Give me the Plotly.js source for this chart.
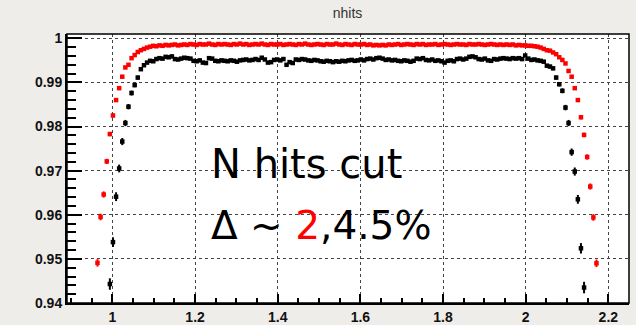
<!DOCTYPE html>
<html>
<head>
<meta charset="utf-8">
<script src="https://cdn.plot.ly/plotly-3.0.1.min.js"></script>
<style>
html,body{margin:0;padding:0;background:#efede9;}
#chart{width:636px;height:325px;}
</style>
</head>
<body>
<div id="chart"></div>
<script>
// Histogram bins: first bin centre and bin width (x axis)
const binCenter0 = 0.96375;
const binWidth = 0.0075;

// Red series (efficiency, tighter selection)
const redEff = [
  0.9491,0.9595,0.9646,0.9721,0.9783,0.9825,0.9860,0.9887,0.9913,0.9934,
  0.9940,0.9955,0.9962,0.9969,0.9973,0.9976,0.9979,0.9981,0.9983,0.9982,
  0.9984,0.9983,0.9985,0.9984,0.9985,0.9986,0.9984,0.9985,0.9986,0.9985,
  0.9987,0.9986,0.9985,0.9987,0.9986,0.9986,0.9988,0.9986,0.9985,0.9987,
  0.9986,0.9987,0.9986,0.9985,0.9987,0.9986,0.9988,0.9986,0.9987,0.9985,
  0.9986,0.9987,0.9986,0.9988,0.9986,0.9985,0.9987,0.9986,0.9986,0.9987,
  0.9985,0.9986,0.9987,0.9986,0.9985,0.9987,0.9986,0.9988,0.9986,0.9985,
  0.9986,0.9987,0.9986,0.9985,0.9987,0.9986,0.9986,0.9988,0.9986,0.9985,
  0.9987,0.9986,0.9985,0.9987,0.9986,0.9986,0.9987,0.9985,0.9986,0.9984,
  0.9985,0.9984,0.9985,0.9984,0.9986,0.9985,0.9986,0.9987,0.9985,0.9986,
  0.9987,0.9986,0.9985,0.9987,0.9986,0.9987,0.9985,0.9986,0.9986,0.9987,
  0.9985,0.9986,0.9987,0.9986,0.9985,0.9986,0.9987,0.9986,0.9986,0.9985,
  0.9987,0.9986,0.9986,0.9987,0.9986,0.9985,0.9986,0.9987,0.9986,0.9985,
  0.9986,0.9985,0.9986,0.9985,0.9986,0.9984,0.9985,0.9984,0.9984,0.9983,
  0.9983,0.9982,0.9981,0.9979,0.9976,0.9973,0.9972,0.9968,0.9964,0.9957,
  0.9951,0.9943,0.9926,0.9913,0.9887,0.9860,0.9821,0.9781,0.9731,0.9664,
  0.9594,0.9490
];
const redErr = [
  0.00085,0.00075,0.0007,0.0006,0.0005,0.00045,0.0004,0.00035,0.0003,0.00026,
  0.00024,0.0002,0.0002,0.00018,0.00018,0.00018,0.00018,0.00018,0.00018,0.00018,
  0.00018,0.00018,0.00018,0.00018,0.00018,0.00018,0.00018,0.00018,0.00018,0.00018,
  0.00018,0.00018,0.00018,0.00018,0.00018,0.00018,0.00018,0.00018,0.00018,0.00018,
  0.00018,0.00018,0.00018,0.00018,0.00018,0.00018,0.00018,0.00018,0.00018,0.00018,
  0.00018,0.00018,0.00018,0.00018,0.00018,0.00018,0.00018,0.00018,0.00018,0.00018,
  0.00018,0.00018,0.00018,0.00018,0.00018,0.00018,0.00018,0.00018,0.00018,0.00018,
  0.00018,0.00018,0.00018,0.00018,0.00018,0.00018,0.00018,0.00018,0.00018,0.00018,
  0.00018,0.00018,0.00018,0.00018,0.00018,0.00018,0.00018,0.00018,0.00018,0.00018,
  0.00018,0.00018,0.00018,0.00018,0.00018,0.00018,0.00018,0.00018,0.00018,0.00018,
  0.00018,0.00018,0.00018,0.00018,0.00018,0.00018,0.00018,0.00018,0.00018,0.00018,
  0.00018,0.00018,0.00018,0.00018,0.00018,0.00018,0.00018,0.00018,0.00018,0.00018,
  0.00018,0.00018,0.00018,0.00018,0.00018,0.00018,0.00018,0.00018,0.00018,0.00018,
  0.00018,0.00018,0.00018,0.00018,0.00018,0.00018,0.00018,0.00018,0.00018,0.00018,
  0.00018,0.00018,0.00018,0.00018,0.00018,0.00018,0.00018,0.00018,0.00018,0.00018,
  0.0002,0.00022,0.00026,0.0003,0.00035,0.0004,0.00045,0.0005,0.0006,0.0007,
  0.00075,0.00085
];

// Black series (efficiency, looser selection)
const blackEff = [
  0.905,0.917,0.927,0.935,0.9443,0.9538,0.9641,0.9705,0.9766,0.9808,
  0.9845,0.9876,0.9894,0.9911,0.9930,0.9939,0.9945,0.9949,0.9948,0.9953,
  0.9955,0.9954,0.9958,0.9957,0.9959,0.9953,0.9952,0.9954,0.9956,0.9955,
  0.9954,0.9949,0.9948,0.9950,0.9945,0.9944,0.9955,0.9954,0.9949,0.9948,
  0.9950,0.9949,0.9948,0.9950,0.9949,0.9947,0.9950,0.9951,0.9952,0.9950,
  0.9951,0.9953,0.9951,0.9956,0.9952,0.9945,0.9946,0.9951,0.9952,0.9950,
  0.9953,0.9940,0.9946,0.9944,0.9952,0.9951,0.9953,0.9952,0.9950,0.9949,
  0.9951,0.9950,0.9948,0.9947,0.9949,0.9948,0.9946,0.9948,0.9947,0.9949,
  0.9948,0.9950,0.9951,0.9949,0.9950,0.9952,0.9950,0.9953,0.9954,0.9952,
  0.9955,0.9956,0.9954,0.9951,0.9952,0.9950,0.9951,0.9949,0.9948,0.9950,
  0.9949,0.9947,0.9949,0.9954,0.9953,0.9955,0.9951,0.9950,0.9952,0.9949,
  0.9950,0.9948,0.9945,0.9949,0.9950,0.9948,0.9953,0.9954,0.9952,0.9954,
  0.9958,0.9959,0.9957,0.9953,0.9952,0.9954,0.9950,0.9949,0.9953,0.9952,
  0.9954,0.9955,0.9954,0.9953,0.9955,0.9954,0.9955,0.9953,0.9961,0.9954,
  0.9951,0.9952,0.9950,0.9949,0.9947,0.9938,0.9936,0.9932,0.9911,0.9896,
  0.9881,0.9843,0.9808,0.9742,0.9698,0.9635,0.9524,0.9435,0.932,0.921,
  0.908,0.895
];
const blackErr = [
  0.0015,0.0015,0.0014,0.0014,0.0013,0.0011,0.001,0.00088,0.0008,0.0007,
  0.00062,0.00056,0.0005,0.00046,0.0004,0.00038,0.00035,0.00033,0.0003,0.0003,
  0.0003,0.0003,0.0003,0.0003,0.0003,0.0003,0.0003,0.0003,0.0003,0.0003,
  0.0003,0.0003,0.0003,0.0003,0.0003,0.0003,0.0003,0.0003,0.0003,0.0003,
  0.0003,0.0003,0.0003,0.0003,0.0003,0.0003,0.0003,0.0003,0.0003,0.0003,
  0.0003,0.0003,0.0003,0.0003,0.0003,0.0003,0.0003,0.0003,0.0003,0.0003,
  0.0003,0.0003,0.0003,0.0003,0.0003,0.0003,0.0003,0.0003,0.0003,0.0003,
  0.0003,0.0003,0.0003,0.0003,0.0003,0.0003,0.0003,0.0003,0.0003,0.0003,
  0.0003,0.0003,0.0003,0.0003,0.0003,0.0003,0.0003,0.0003,0.0003,0.0003,
  0.0003,0.0003,0.0003,0.0003,0.0003,0.0003,0.0003,0.0003,0.0003,0.0003,
  0.0003,0.0003,0.0003,0.0003,0.0003,0.0003,0.0003,0.0003,0.0003,0.0003,
  0.0003,0.0003,0.0003,0.0003,0.0003,0.0003,0.0003,0.0003,0.0003,0.0003,
  0.0003,0.0003,0.0003,0.0003,0.0003,0.0003,0.0003,0.0003,0.0003,0.0003,
  0.0003,0.0003,0.0003,0.0003,0.0003,0.0003,0.0003,0.0003,0.0003,0.0003,
  0.0003,0.0003,0.0003,0.0003,0.0003,0.00038,0.0004,0.00042,0.00046,0.0005,
  0.00055,0.00062,0.0007,0.00082,0.00092,0.001,0.00118,0.0013,0.0014,0.0015,
  0.0015,0.0016
];

const titleText = 'nhits';
const noteLine1 = 'N hits cut';
const noteLine2 = 'Δ ~ <span style="color:#ff0000">2</span>,4.5%';

const tickFont = {family:'Liberation Sans, Arial, sans-serif', size:14, color:'#111', weight:700};

const traces = [
  {
    type:'scatter', mode:'markers',
    x0: binCenter0, dx: binWidth, y: blackEff,
    marker:{symbol:'square', size:4.5, color:'#000000'},
    error_y:{type:'data', array: blackErr, visible:true, color:'#000000', thickness:2, width:0},
    hoverinfo:'skip'
  },
  {
    type:'scatter', mode:'markers',
    x0: binCenter0, dx: binWidth, y: redEff,
    marker:{symbol:'square', size:4.5, color:'#ff0000'},
    error_y:{type:'data', array: redErr, visible:true, color:'#ff0000', thickness:2, width:0},
    hoverinfo:'skip'
  }
];

const layout = {
  width:636, height:325,
  margin:{l:67, r:7, t:34, b:22, pad:0},
  paper_bgcolor:'#efede9',
  plot_bgcolor:'#ffffff',
  showlegend:false,
  title:{
    text:titleText,
    font:{family:'Liberation Sans, Arial, sans-serif', size:14, color:'#333'},
    xref:'container', x:0.5464, xanchor:'center',
    yref:'container', y:0.96, yanchor:'middle'
  },
  xaxis:{
    range:[0.89, 2.25],
    tick0:0, dtick:0.2,
    ticks:'inside', ticklen:9, tickwidth:2, tickcolor:'#000',
    showline:true, linewidth:2, linecolor:'#000', mirror:false,
    showgrid:true, gridcolor:'#444', griddash:'dot', gridwidth:1,
    zeroline:false,
    tickfont:tickFont,
    minor:{dtick:0.05, tick0:0, ticks:'inside', ticklen:5, tickwidth:2, tickcolor:'#000', showgrid:false}
  },
  yaxis:{
    range:[0.94, 1.00098],
    tick0:0.94, dtick:0.01,
    ticks:'inside', ticklen:15, tickwidth:2, tickcolor:'#000',
    showline:true, linewidth:2, linecolor:'#000', mirror:false,
    showgrid:true, gridcolor:'#444', griddash:'dot', gridwidth:1,
    zeroline:false,
    tickfont:tickFont,
    minor:{dtick:0.002, tick0:0.94, ticks:'inside', ticklen:9, tickwidth:2, tickcolor:'#000', showgrid:false}
  },
  shapes:[
    {type:'rect', xref:'paper', yref:'paper', x0:0, x1:1, y0:0, y1:1,
     line:{color:'#000', width:1.5}, fillcolor:'rgba(0,0,0,0)'}
  ],
  annotations:[
    {xref:'paper', yref:'paper', x:0.2528, y:0.518, xanchor:'left', yanchor:'middle',
     text:noteLine1, showarrow:false,
     font:{family:'DejaVu Sans, sans-serif', size:40, color:'#000'}},
    {xref:'paper', yref:'paper', x:0.2528, y:0.289, xanchor:'left', yanchor:'middle',
     text:noteLine2, showarrow:false,
     font:{family:'DejaVu Sans, sans-serif', size:39, color:'#000'}}
  ]
};

Plotly.newPlot('chart', traces, layout, {staticPlot:true, displayModeBar:false});
</script>
</body>
</html>
